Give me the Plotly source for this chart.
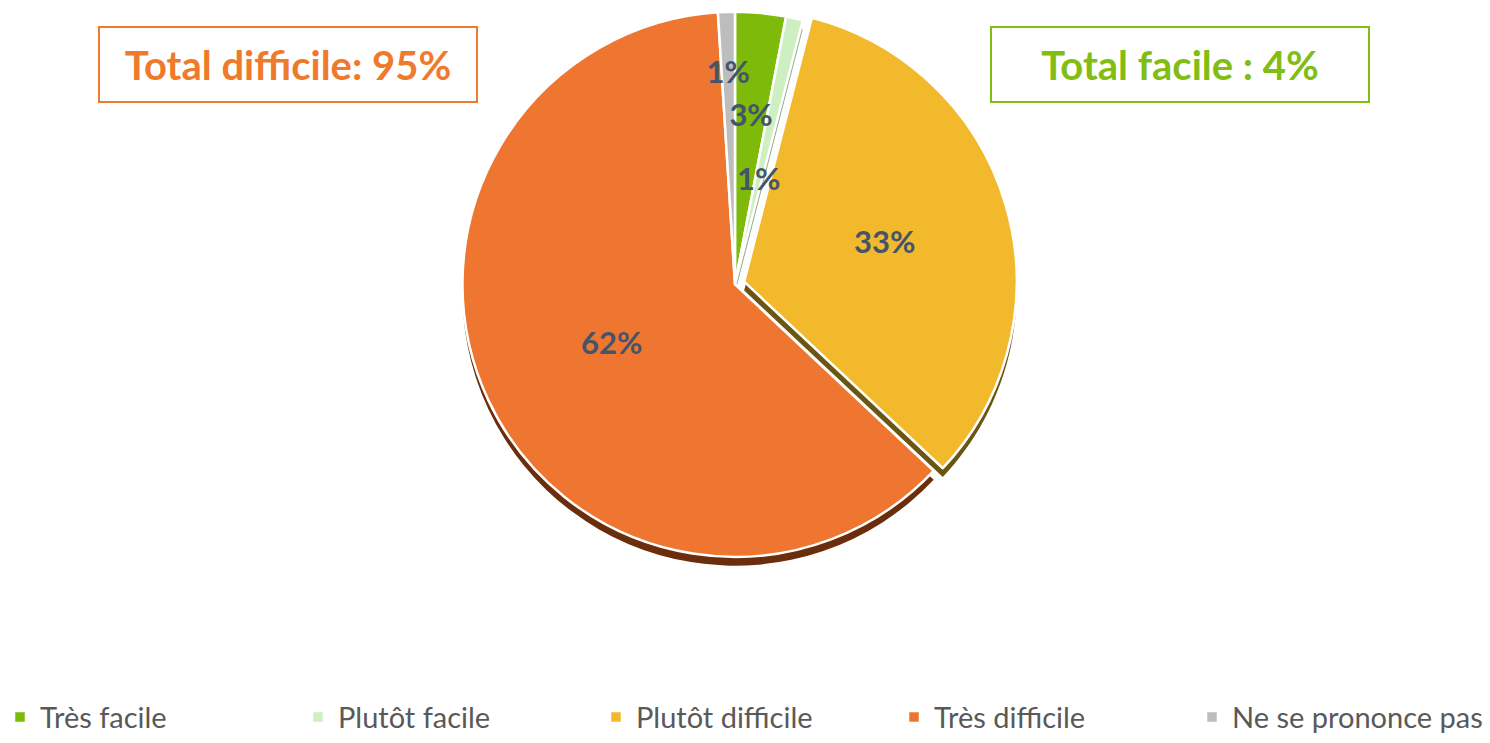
import plotly.graph_objects as go

labels = ["Très facile", "Plutôt facile", "Plutôt difficile", "Très difficile", "Ne se prononce pas"]
values = [3, 1, 33, 62, 1]
colors = ["#7DBA0A", "#CDEFC1", "#F2B92C", "#EF7630", "#BDBDBD"]
shadow_colors = ["#4F7A06", "#8FA888", "#6B5512", "#6A2E0C", "#7A7A7A"]
pulls = [0, 0, 0.035, 0, 0]
box_texts = ["Total difficile: 95%", "Total facile : 4%"]
box_colors = ["#F07A2C", "#82BD14"]

W, H = 1490, 743
CX, CY = 735, 289          # pie centre (px)
R = 277                    # pie radius (px)
SHADOW = 9


def square_domain(radius, pull=0.0, dy=0.0):
    half = radius * (1 + pull)
    return dict(x=[(CX - half) / W, (CX + half) / W],
                y=[1 - (CY + dy + half) / H, 1 - (CY + dy - half) / H])


label_font = dict(family="Lato", size=31, color="#44546A", weight="bold")
big_text = [f"{v}%" if v >= 10 else "" for v in values]

fig = go.Figure()
# 3D-like shadow rim
fig.add_trace(go.Pie(
    labels=labels, values=values, sort=False, direction="clockwise", rotation=0,
    marker=dict(colors=shadow_colors, line=dict(color="white", width=0)),
    pull=pulls, textinfo="none", hoverinfo="skip", showlegend=False,
    domain=square_domain(R, max(pulls), SHADOW),
))
# main pie
fig.add_trace(go.Pie(
    labels=labels, values=values, sort=False, direction="clockwise", rotation=0,
    marker=dict(colors=colors, line=dict(color="white", width=2.5)),
    pull=pulls, text=big_text, textinfo="text", textposition="inside",
    insidetextorientation="horizontal", textfont=label_font,
    domain=square_domain(R, max(pulls)),
))
# labels for the thin slices, placed via transparent overlay pies of smaller radius
small_idx = [i for i, v in enumerate(values) if v < 10]
overlay_radius = {4: 224, 0: 190, 1: 114}
for i in small_idx:
    txt = [f"{v}%" if j == i else "" for j, v in enumerate(values)]
    fig.add_trace(go.Pie(
        labels=labels, values=values, sort=False, direction="clockwise", rotation=0,
        marker=dict(colors=["rgba(0,0,0,0)"] * len(values), line=dict(width=0)),
        text=txt, textinfo="text", textposition="inside",
        insidetextorientation="horizontal", textfont=label_font,
        hoverinfo="skip", showlegend=False,
        domain=square_domain(overlay_radius[i]),
    ))

fig.update_layout(
    width=W, height=H,
    margin=dict(l=0, r=0, t=0, b=0),
    paper_bgcolor="white", plot_bgcolor="white",
    uniformtext=dict(minsize=31, mode="show"),
    legend=dict(orientation="h", x=0.0, xanchor="left", y=1 - 729 / H, yanchor="middle",
                font=dict(family="Lato", size=29, color="#595959"),
                entrywidth=253, traceorder="normal"),
)

for k, cxp in enumerate([287.5, 1179.5]):
    fig.add_annotation(x=cxp / W, y=1 - 65.5 / H, xref="paper", yref="paper",
                       xanchor="center", yanchor="middle",
                       text="<b>" + box_texts[k] + "</b>", showarrow=False,
                       font=dict(family="Lato", size=40, color=box_colors[k]),
                       bordercolor=box_colors[k], borderwidth=2, width=374, height=71,
                       bgcolor="white")

fig.write_html("out.html", config={"displayModeBar": False},
               post_script="document.body.style.margin='0';")
